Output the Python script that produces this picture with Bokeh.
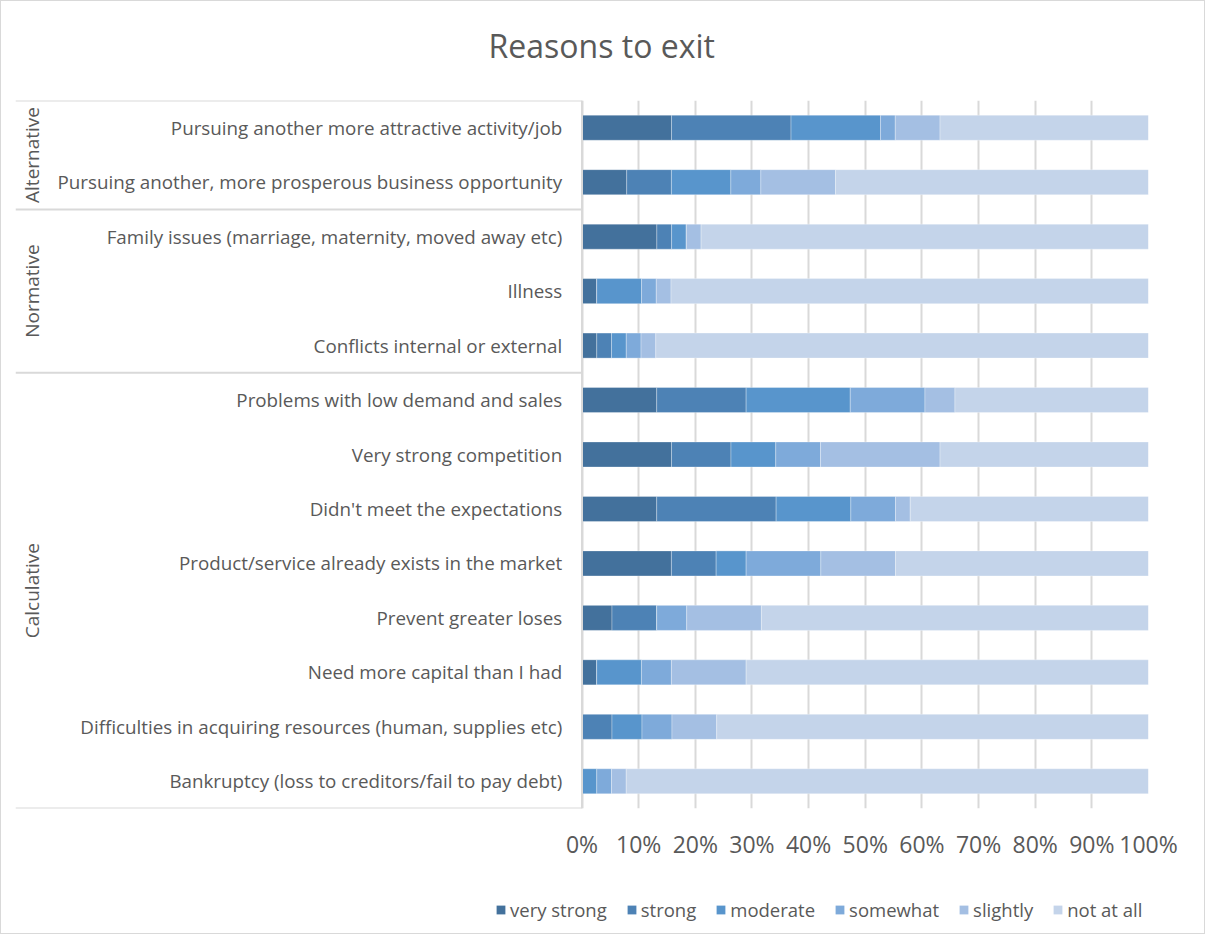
from bokeh.plotting import figure
from bokeh.layouts import column
from bokeh.models import (ColumnDataSource, FactorRange, Range1d, FixedTicker,
                          PrintfTickFormatter, Legend, LegendItem)
from bokeh.core.properties import value
from bokeh.embed import file_html
from bokeh.resources import INLINE

# ---------------- data ----------------
title_text = "Reasons to exit"
categories = [
    "Pursuing another more attractive activity/job",
    "Pursuing another, more prosperous business opportunity",
    "Family issues (marriage, maternity, moved away etc)",
    "Illness",
    "Conflicts internal or external",
    "Problems with low demand and sales",
    "Very strong competition",
    "Didn't meet the expectations",
    "Product/service already exists in the market",
    "Prevent greater loses",
    "Need more capital than I had",
    "Difficulties in acquiring resources (human, supplies etc)",
    "Bankruptcy (loss to creditors/fail to pay debt)",
]
groups = ["Alternative", "Normative", "Calculative"]
group_sizes = [2, 3, 8]

series = ["very strong", "strong", "moderate", "somewhat", "slightly", "not at all"]

very_strong = [15.8, 7.9, 13.2, 2.6, 2.6, 13.2, 15.8, 13.2, 15.8, 5.3, 2.6, 0.0, 0.0]
strong      = [21.1, 7.9, 2.6, 0.0, 2.6, 15.8, 10.5, 21.1, 7.9, 7.9, 0.0, 5.3, 0.0]
moderate    = [15.8, 10.5, 2.6, 7.9, 2.6, 18.4, 7.9, 13.2, 5.3, 0.0, 7.9, 5.3, 2.6]
somewhat    = [2.6, 5.3, 0.0, 2.6, 2.6, 13.2, 7.9, 7.9, 13.2, 5.3, 5.3, 5.3, 2.6]
slightly    = [7.9, 13.2, 2.6, 2.6, 2.6, 5.3, 21.1, 2.6, 13.2, 13.2, 13.2, 7.9, 2.6]
not_at_all  = [36.8, 55.3, 78.9, 84.2, 86.8, 34.2, 36.8, 42.1, 44.7, 68.4, 71.1, 76.3, 92.1]

x_ticks = [0, 10, 20, 30, 40, 50, 60, 70, 80, 90, 100]

colors = ["#43719c", "#4d82b5", "#5895cc", "#7eaada", "#a4bfe3", "#c4d4ea"]
TEXT = "#595959"
LINE = "#d9d9d9"
FONT = "Open Sans"

# ---------------- title strip ----------------
p0 = figure(width=1203, height=99, output_backend="svg", toolbar_location=None,
            x_range=Range1d(0, 1203), y_range=Range1d(0, 99),
            x_axis_location=None, y_axis_location=None, min_border=0)
p0.outline_line_color = None
p0.grid.visible = False
p0.text(x=[622.5], y=[55], text=[title_text], text_align="center",
        text_baseline="middle", text_font=value(FONT), text_font_size="32px",
        text_color=TEXT)

# ---------------- main chart ----------------
raw = [very_strong, strong, moderate, somewhat, slightly, not_at_all]
totals = [sum(col[i] for col in raw) for i in range(len(categories))]
data = {"cat": categories}
for name, col in zip(series, raw):
    data[name] = [v / t * 100 for v, t in zip(col, totals)]
source = ColumnDataSource(data)

p = figure(width=1203, height=771, output_backend="svg", toolbar_location=None,
           y_range=FactorRange(*list(reversed(categories)), range_padding=0),
           x_range=Range1d(-100, 100),
           min_border_left=14, min_border_right=56, min_border_top=0,
           min_border_bottom=63)
p.outline_line_color = None
p.background_fill_color = "white"

renderers = p.hbar_stack(series, y="cat", height=0.46, color=colors, source=source,
                         line_color="white", line_width=0.6, line_alpha=0.5)

# axes
p.yaxis.visible = False
ax = p.xaxis[0]
ax.ticker = FixedTicker(ticks=x_ticks)
ax.formatter = PrintfTickFormatter(format="%d%%")
ax.bounds = (0, 100)
ax.axis_line_color = None
ax.major_tick_line_color = None
ax.minor_tick_line_color = None
ax.major_label_text_font = FONT
ax.major_label_text_font_size = "23px"
ax.major_label_text_color = TEXT
ax.major_label_standoff = 13

p.ygrid.grid_line_color = None
p.xgrid.ticker = FixedTicker(ticks=x_ticks)
p.xgrid.bounds = (0, 100)
p.xgrid.grid_line_color = LINE
p.xgrid.grid_line_width = 2

# label table lines
bounds = [0]
for s in reversed(group_sizes):
    bounds.append(bounds[-1] + s)
p.segment(x0=[-100] * len(bounds), x1=[0] * len(bounds), y0=bounds, y1=bounds,
          line_color=LINE, line_width=2)
p.segment(x0=[0], x1=[0], y0=[0], y1=[len(categories)], line_color=LINE, line_width=2)

# category labels
p.text(x=[-3.5] * len(categories), y=categories, text=categories,
       text_align="right", text_baseline="middle", text_font=value(FONT),
       text_font_size="18.8px", text_color=TEXT)

# group labels
centers = []
start = len(categories)
for s in group_sizes:
    centers.append(start - s / 2)
    start -= s
p.text(x=[-97] * len(groups), y=centers, text=groups, angle=1.5708,
       text_align="center", text_baseline="middle", text_font=value(FONT),
       text_font_size="19px", text_color=TEXT)

# ---------------- legend strip ----------------
p2 = figure(width=1203, height=62, output_backend="svg", toolbar_location=None,
            x_range=Range1d(0, 1), y_range=Range1d(0, 1),
            x_axis_location=None, y_axis_location=None,
            min_border=0)
p2.outline_line_color = None
p2.grid.visible = False
# swatch renderers for the legend only (their single bar lies outside the strip's view)
dummy = ColumnDataSource({"y": [-5], "l": [0], "r": [0]})
swatches = [p2.hbar(y="y", left="l", right="r", height=0.5, fill_color=c,
                    line_color=None, source=dummy)
            for c in colors]
legend = Legend(items=[LegendItem(label=s, renderers=[r]) for s, r in zip(series, swatches)],
                orientation="horizontal", location=(480, 11),
                glyph_width=11, glyph_height=11, label_standoff=4, spacing=19,
                padding=0, margin=0, border_line_color=None, background_fill_alpha=0,
                label_text_font=FONT, label_text_font_size="18.5px",
                label_text_color=TEXT, label_height=20)
p2.add_layout(legend, "center")

layout = column(p0, p, p2, spacing=0)
layout.styles = {"border": "1px solid #d9d9d9"}

open("out.html", "w").write(file_html(layout, INLINE))
